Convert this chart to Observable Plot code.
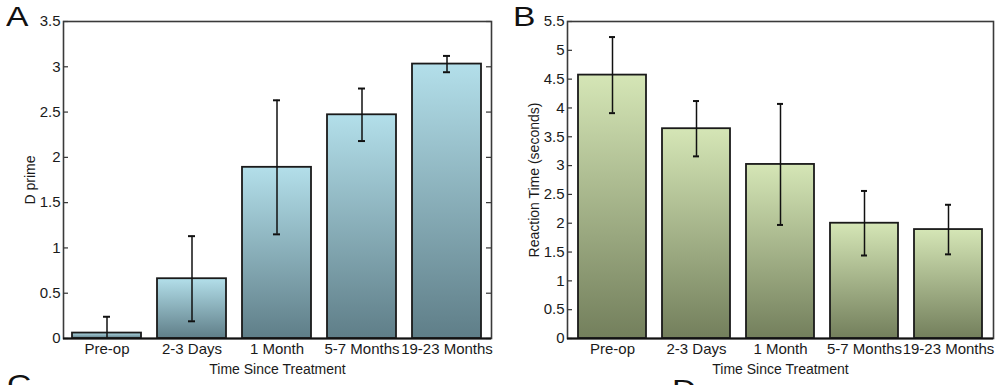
<!DOCTYPE html>
<html><head><meta charset="utf-8">
<script src="https://cdn.jsdelivr.net/npm/d3@7"></script>
<script src="https://cdn.jsdelivr.net/npm/@observablehq/plot@0.6"></script>
<style>
body{margin:0;width:1000px;height:385px;overflow:hidden;background:#fff;font-family:"Liberation Sans",Arial,sans-serif;position:relative}
.panel{position:absolute;top:0}
.letter{position:absolute;font-size:28px;line-height:1;color:#111;transform:scaleX(1.2);transform-origin:left top}
</style></head><body>
<div id="A" class="panel" style="left:0"></div>
<div id="B" class="panel" style="left:500px"></div>
<div class="letter" style="left:6px;top:3px">A</div>
<div class="letter" style="left:513px;top:3px">B</div>
<div class="letter" style="left:7px;top:371px">C</div>
<div class="letter" style="left:672px;top:376px">D</div>
<script>
const categories = ["Pre-op", "2-3 Days", "1 Month", "5-7 Months", "19-23 Months"];
const dprimeMean = [0.06, 0.66, 1.89, 2.47, 3.03];
const dprimeErr = [0.18, 0.47, 0.74, 0.29, 0.09];
const rtMean = [4.57, 3.64, 3.02, 2.00, 1.89];
const rtErr = [0.66, 0.48, 1.05, 0.56, 0.43];
const dprimeTicks = [0, 0.5, 1, 1.5, 2, 2.5, 3, 3.5];
const rtTicks = [0, 0.5, 1, 1.5, 2, 2.5, 3, 3.5, 4, 4.5, 5, 5.5];
const xTitle = "Time Since Treatment";

function panel({mean, err, ticks, ylabel, gradId, top, bottom, mirror, marginLeft, marginRight}) {
  const rows = categories.map((c, i) => ({cat: c, m: mean[i], lo: mean[i] - err[i], hi: mean[i] + err[i]}));
  const W = 500, H = 385, mt = 21, mb = 47;
  const fw = W - marginLeft - marginRight;
  const marks = [
    Plot.barY(rows, {x: "cat", y: "m", fill: `url(#${gradId})`, stroke: "#1a1a1a", strokeWidth: 1.8}),
    Plot.ruleX(rows, {x: "cat", y1: "lo", y2: "hi", stroke: "#111", strokeWidth: 1.5, clip: true}),
    Plot.tickY(rows, {x: "cat", y: "hi", insetLeft: 31, insetRight: 31, stroke: "#111", strokeWidth: 2, clip: true}),
    Plot.tickY(rows, {x: "cat", y: "lo", insetLeft: 31, insetRight: 31, stroke: "#111", strokeWidth: 2, clip: true}),
    Plot.tickY(ticks, {y: d => d, insetRight: fw - 5, stroke: "#333", strokeWidth: 1.2}),
    mirror ? Plot.tickY(ticks, {y: d => d, insetLeft: fw - 5, stroke: "#333", strokeWidth: 1.2}) : null,
    Plot.frame({stroke: "#3a3a3a", strokeWidth: 1.6}),
    Plot.ruleY([0], {stroke: "#111", strokeWidth: 2}),
    Plot.axisY({ticks, tickSize: 0, tickPadding: 3, tickFormat: d => String(d), label: null, fontSize: 15}),
    Plot.axisX({tickSize: 0, tickPadding: 5, label: null, fontSize: 15}),
    Plot.text([ylabel], {text: d => d, frameAnchor: "left", textAnchor: "middle", lineAnchor: "middle", dx: -33, rotate: -90, fontSize: 14}),
    Plot.text([xTitle], {text: d => d, frameAnchor: "bottom", textAnchor: "middle", lineAnchor: "middle", dy: 31, fontSize: 14})
  ].filter(Boolean);
  const svg = Plot.plot({
    width: W, height: H,
    marginLeft, marginRight, marginTop: mt, marginBottom: mb,
    style: {fontFamily: "Liberation Sans, Arial, sans-serif", fontSize: "14px", color: "#1a1a1a", background: "transparent"},
    x: {domain: categories, paddingInner: 0.185, paddingOuter: 0.105, axis: null},
    y: {domain: [0, ticks[ticks.length - 1]], axis: null},
    marks
  });
  const ns = "http://www.w3.org/2000/svg";
  const defs = document.createElementNS(ns, "defs");
  defs.innerHTML = `<linearGradient id="${gradId}" x1="0" y1="0" x2="0" y2="1"><stop offset="0" stop-color="${top}"/><stop offset="1" stop-color="${bottom}"/></linearGradient>`;
  svg.prepend(defs);
  return svg;
}

document.getElementById("A").appendChild(panel({
  mean: dprimeMean, err: dprimeErr, ticks: dprimeTicks, ylabel: "D prime",
  gradId: "gradA", top: "#b3dfea", bottom: "#5f7e88", mirror: true, marginLeft: 63, marginRight: 9
}));
document.getElementById("B").appendChild(panel({
  mean: rtMean, err: rtErr, ticks: rtTicks, ylabel: "Reaction Time (seconds)",
  gradId: "gradB", top: "#d5e6b6", bottom: "#737f5c", mirror: false, marginLeft: 67, marginRight: 7
}));
</script>
</body></html>
